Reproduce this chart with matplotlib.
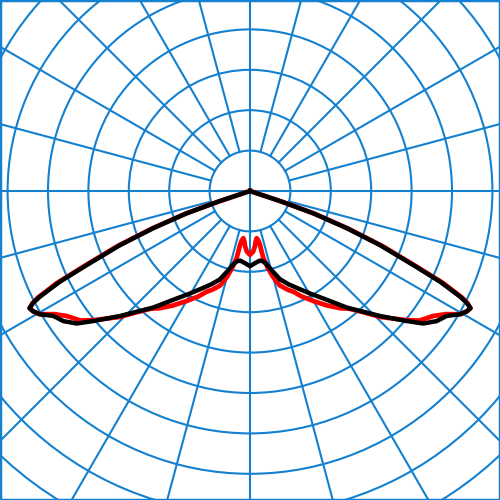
import numpy as np
import matplotlib.pyplot as plt
from matplotlib.patches import Circle

# polar intensity diagram, values in cd/klm, gamma from nadir (deg)
RING_STEP = 100          # cd/klm between the circles
N_RINGS = 11
GRID_COLOR = '#1380d0'

# black curve (C0/C180 plane), one half, mirrored for the other side
gamma_black = [0, 4, 8, 10.5, 12.8, 15.5, 18.8, 22.5, 27, 30.5, 34.3, 37, 39.7,
               43, 46.1, 50.3, 52.6, 55.1, 57.6, 59.6, 61, 62, 62.7, 63.3, 64.5,
               65.6, 67.4, 69, 70.6, 71.5, 72, 90, 180]
i_black = [186, 179, 174, 177, 186, 205, 231, 250, 273, 295, 322, 346, 375,
           408, 446, 504, 540, 563, 577, 603, 614, 618, 604, 582, 521,
           444, 348, 256, 166, 80, 0, 0, 0]

# red curve (C90/C270 plane)
gamma_red = [0, 3, 5, 6.5, 8, 9.5, 10.5, 11.2, 13, 15, 17.5, 21, 23.4, 26, 29.9,
             34, 37.7, 40, 43, 46.1, 50.3, 52.6, 55.7, 57.8, 59.6, 61, 62, 62.7,
             63.3, 64.5, 65.6, 67.4, 69, 70.6, 71.5, 72, 90, 180]
i_red = [158, 150, 138, 125, 118, 124, 136, 168, 195, 220, 245, 262, 272, 290, 314,
         342, 367, 380, 410, 450, 500, 528, 549, 572, 603, 614, 618, 606,
         588, 530, 452, 356, 262, 170, 82, 0, 0, 0]


def to_xy(gamma, inten):
    g = np.radians(np.asarray(gamma, dtype=float))
    r = np.asarray(inten, dtype=float)
    # right half reversed, then left half
    x = np.concatenate([(r * np.sin(g))[::-1], -r * np.sin(g)])
    y = np.concatenate([(-r * np.cos(g))[::-1], -r * np.cos(g)])
    return x, y


fig = plt.figure(figsize=(5, 5), dpi=100)
ax = fig.add_axes([0, 0, 1, 1])

px = RING_STEP / 40.4    # cd/klm per pixel
ax.set_xlim(-250 * px, 250 * px)
ax.set_ylim(-309 * px, 191 * px)
ax.set_aspect('equal')

for k in range(1, N_RINGS):
    ax.add_patch(Circle((0, 0), k * RING_STEP, fill=False, color=GRID_COLOR, lw=1.5))
for a in range(0, 360, 15):
    t = np.radians(a)
    r0 = 0 if a % 90 == 0 else RING_STEP
    ax.plot([r0 * np.cos(t), N_RINGS * RING_STEP * np.cos(t)],
            [r0 * np.sin(t), N_RINGS * RING_STEP * np.sin(t)],
            color=GRID_COLOR, lw=1.5)

x, y = to_xy(gamma_red, i_red)
ax.plot(x, y, color='#ff0000', lw=3.4, solid_joinstyle='round')
x, y = to_xy(gamma_black, i_black)
ax.plot(x, y, color='#000000', lw=3.2, solid_joinstyle='round')

ax.set_xticks([])
ax.set_yticks([])
for s in ax.spines.values():
    s.set_color(GRID_COLOR)
    s.set_linewidth(2.5)

fig.savefig('out.png', dpi=100)
